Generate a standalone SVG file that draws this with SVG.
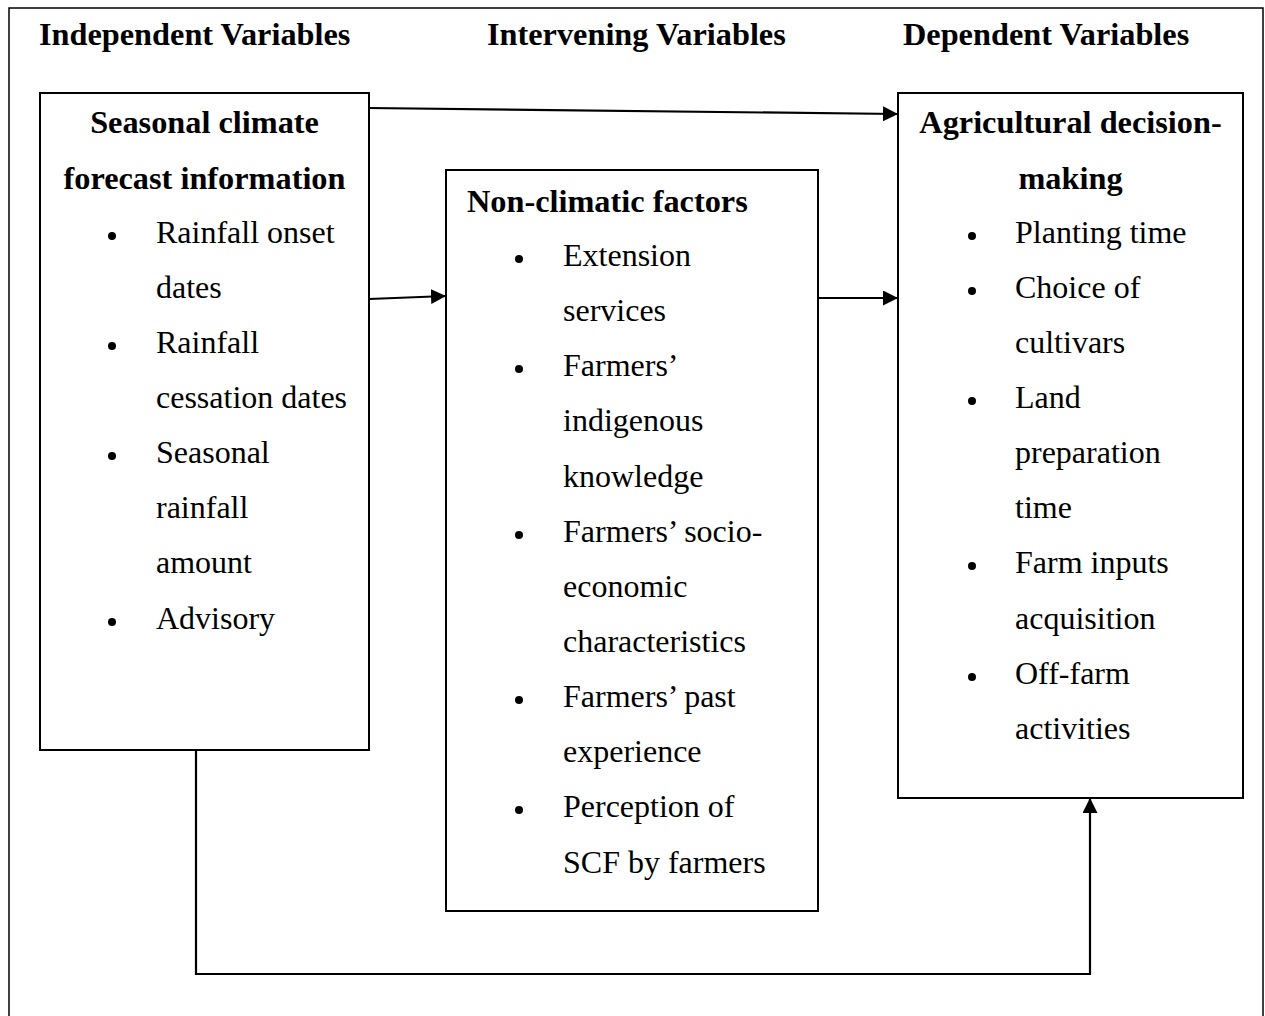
<svg xmlns="http://www.w3.org/2000/svg" width="1265" height="1016" viewBox="0 0 1265 1016">
<style>
text{font-family:"Liberation Serif","Times New Roman",serif;fill:#000}
.h{font-size:32.3px;font-weight:bold}
.b{font-size:32px}
.box{fill:#fff;stroke:#000;stroke-width:2}
.c{fill:none;stroke:#000;stroke-width:2.2}
.dot{fill:#000}
</style>
<defs>
<marker id="ah" markerUnits="userSpaceOnUse" markerWidth="16" markerHeight="15" refX="15" refY="7.5" orient="auto">
<path d="M0,0 L15,7.5 L0,15 z" fill="#000"/>
</marker>
</defs>
<rect x="9" y="8" width="1254" height="1020" fill="#fff" stroke="#000" stroke-width="1.5"/>
<g id="headings">
<text class="h" x="39" y="45">Independent Variables</text>
<text class="h" x="487" y="45">Intervening Variables</text>
<text class="h" x="903" y="45">Dependent Variables</text>
</g>
<g id="connectors">
<path class="c" d="M369,108 L898,114" marker-end="url(#ah)"/>
<path class="c" d="M369,299 L446,296" marker-end="url(#ah)"/>
<path class="c" d="M818,298 L898,298" marker-end="url(#ah)"/>
<path class="c" d="M196,750 L196,974 L1090,974 L1090,798" marker-end="url(#ah)"/>
</g>
<g id="independent">
<rect class="box" x="40" y="93" width="329" height="657"/>
<text class="h" x="204.5" y="133" text-anchor="middle">Seasonal climate</text>
<text class="h" x="204.5" y="189" text-anchor="middle">forecast information</text>
<circle class="dot" cx="112" cy="236" r="4"/>
<circle class="dot" cx="112" cy="346" r="4"/>
<circle class="dot" cx="112" cy="456" r="4"/>
<circle class="dot" cx="112" cy="622" r="4"/>
<text class="b" x="156" y="243">Rainfall onset</text>
<text class="b" x="156" y="298">dates</text>
<text class="b" x="156" y="353">Rainfall</text>
<text class="b" x="156" y="408">cessation dates</text>
<text class="b" x="156" y="463">Seasonal</text>
<text class="b" x="156" y="518">rainfall</text>
<text class="b" x="156" y="573">amount</text>
<text class="b" x="156" y="629">Advisory</text>
</g>
<g id="intervening">
<rect class="box" x="446" y="170" width="372" height="741"/>
<text class="h" x="467" y="212">Non-climatic factors</text>
<circle class="dot" cx="519" cy="259" r="4"/>
<circle class="dot" cx="519" cy="369" r="4"/>
<circle class="dot" cx="519" cy="535" r="4"/>
<circle class="dot" cx="519" cy="700" r="4"/>
<circle class="dot" cx="519" cy="810" r="4"/>
<text class="b" x="563" y="266">Extension</text>
<text class="b" x="563" y="321">services</text>
<text class="b" x="563" y="376">Farmers’</text>
<text class="b" x="563" y="431">indigenous</text>
<text class="b" x="563" y="487">knowledge</text>
<text class="b" x="563" y="542">Farmers’ socio-</text>
<text class="b" x="563" y="597">economic</text>
<text class="b" x="563" y="652">characteristics</text>
<text class="b" x="563" y="707">Farmers’ past</text>
<text class="b" x="563" y="762">experience</text>
<text class="b" x="563" y="817">Perception of</text>
<text class="b" x="563" y="873">SCF by farmers</text>
</g>
<g id="dependent">
<rect class="box" x="898" y="93" width="345" height="705"/>
<text class="h" x="1070.5" y="133" text-anchor="middle">Agricultural decision-</text>
<text class="h" x="1070.5" y="189" text-anchor="middle">making</text>
<circle class="dot" cx="972" cy="236" r="4"/>
<circle class="dot" cx="972" cy="291" r="4"/>
<circle class="dot" cx="972" cy="401" r="4"/>
<circle class="dot" cx="972" cy="566" r="4"/>
<circle class="dot" cx="972" cy="677" r="4"/>
<text class="b" x="1015" y="243">Planting time</text>
<text class="b" x="1015" y="298">Choice of</text>
<text class="b" x="1015" y="353">cultivars</text>
<text class="b" x="1015" y="408">Land</text>
<text class="b" x="1015" y="463">preparation</text>
<text class="b" x="1015" y="518">time</text>
<text class="b" x="1015" y="573">Farm inputs</text>
<text class="b" x="1015" y="629">acquisition</text>
<text class="b" x="1015" y="684">Off-farm</text>
<text class="b" x="1015" y="739">activities</text>
</g>
</svg>
